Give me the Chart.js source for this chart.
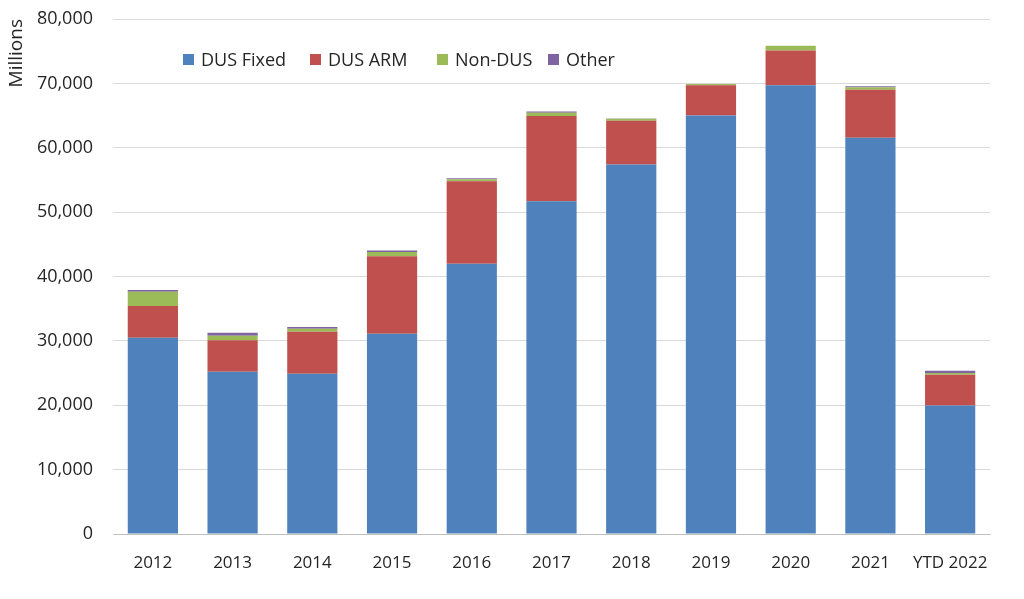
<!DOCTYPE html>
<html>
<head>
<meta charset="utf-8">
<script src="https://cdn.jsdelivr.net/npm/chart.js@4.4.1/dist/chart.umd.min.js"></script>
<style>
  html, body { margin: 0; padding: 0; background: #fff; }
  #wrap { position: relative; width: 1024px; height: 599px; }
  #legend { position: absolute; top: 47px; left: 183px; display: flex; font-family: 'Open Sans', sans-serif; font-size: 18px; color: #262626; }
  #legend .item { display: flex; align-items: center; }
  #legend .box { width: 11px; height: 11px; margin-right: 7px; }
</style>
</head>
<body>
<div id="wrap">
  <canvas id="chart" width="1024" height="599"></canvas>
  <div id="legend"></div>
</div>
<script>
const years = ['2012', '2013', '2014', '2015', '2016', '2017', '2018', '2019', '2020', '2021', 'YTD 2022'];
const dusFixed = [30500, 25200, 24900, 31100, 42000, 51700, 57400, 65000, 69700, 61550, 19950];
const dusArm   = [4900, 4900, 6500, 12050, 12800, 13250, 6800, 4700, 5400, 7450, 4800];
const nonDus   = [2250, 700, 470, 670, 300, 470, 300, 200, 730, 400, 260];
const other    = [250, 470, 270, 200, 150, 200, 50, 0, 0, 150, 360];
const yTicks = [0, 10000, 20000, 30000, 40000, 50000, 60000, 70000, 80000];

const seriesNames = ['DUS Fixed', 'DUS ARM', 'Non-DUS', 'Other'];
const seriesColors = ['#4F81BD', '#C0504D', '#9BBB59', '#8064A2'];
const seriesData = [dusFixed, dusArm, nonDus, other];
const legendWidths = [127, 127, 111, 80];

const font = "'Open Sans', sans-serif";

const datasets = seriesNames.map((name, i) => ({
    label: name,
    data: seriesData[i],
    backgroundColor: seriesColors[i],
    borderWidth: 0,
    barPercentage: 0.63,
    categoryPercentage: 1.0
}));

new Chart(document.getElementById('chart'), {
    type: 'bar',
    data: { labels: years, datasets: datasets },
    options: {
        responsive: false,
        animation: false,
        layout: { padding: { top: 19, right: 34, left: 0, bottom: 0 } },
        scales: {
            x: {
                stacked: true,
                grid: { display: false, drawTicks: false },
                border: { color: '#bfbfbf', width: 1 },
                ticks: {
                    color: '#262626',
                    font: { family: font, size: 17 },
                    padding: 19,
                    maxRotation: 0,
                    autoSkip: false
                },
                afterFit: s => { s.height = 65; s.paddingLeft = 0; s.paddingRight = 0; }
            },
            y: {
                stacked: true,
                min: 0,
                max: 80000,
                afterBuildTicks: s => { s.ticks = yTicks.map(v => ({ value: v })); },
                grid: { color: '#d9d9d9', drawTicks: false },
                border: { display: false },
                ticks: {
                    color: '#262626',
                    font: { family: font, size: 18 },
                    padding: 20,
                    callback: v => v.toLocaleString('en-US')
                },
                title: {
                    display: true,
                    text: 'Millions',
                    align: 'end',
                    color: '#262626',
                    font: { family: font, size: 19 },
                    padding: { top: 5, bottom: 0 }
                },
                afterFit: s => { s.width = 113; s.paddingTop = 0; s.paddingBottom = 0; }
            }
        },
        plugins: {
            legend: { display: false },
            tooltip: { enabled: false }
        }
    }
});

// legend drawn as html inside the plot area, like the original
const legend = document.getElementById('legend');
seriesNames.forEach((name, i) => {
    const item = document.createElement('div');
    item.className = 'item';
    item.style.width = legendWidths[i] + 'px';
    item.innerHTML = '<span class="box" style="background:' + seriesColors[i] + '"></span>' + name;
    legend.appendChild(item);
});
</script>
</body>
</html>
